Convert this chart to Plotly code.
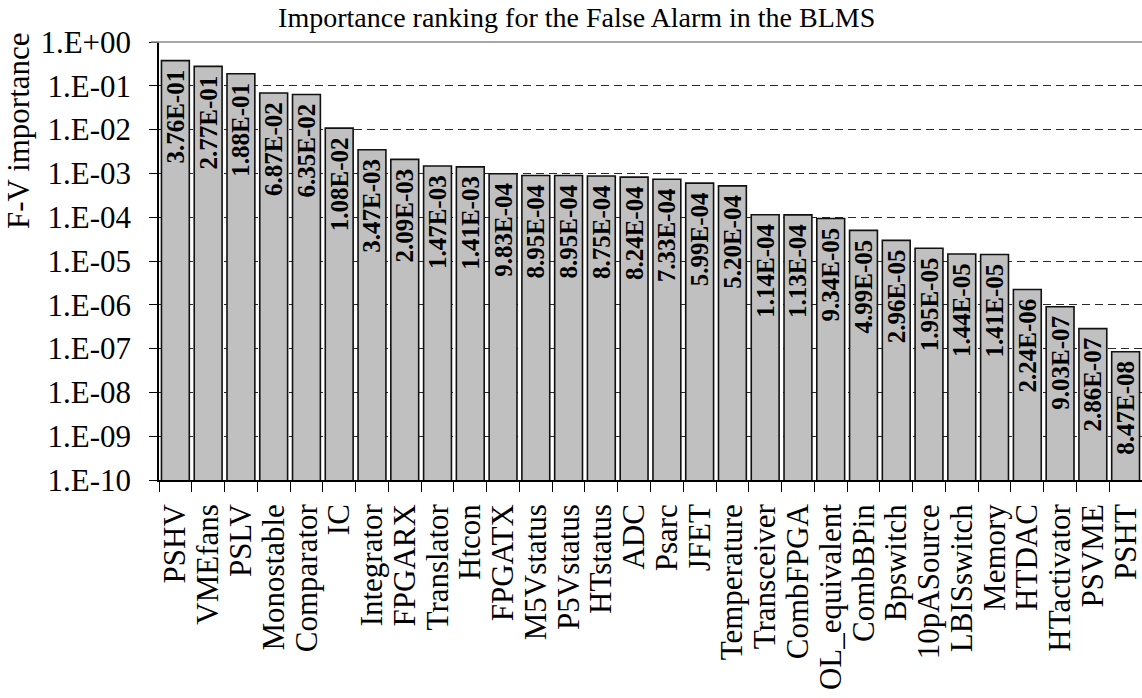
import plotly.graph_objects as go

# Component names, ordered by importance
components = [
    "PSHV", "VMEfans", "PSLV", "Monostable", "Comparator", "IC", "Integrator",
    "FPGARX", "Translator", "Htcon", "FPGATX", "M5Vstatus", "P5Vstatus",
    "HTstatus", "ADC", "Psarc", "JFET", "Temperature", "Transceiver",
    "CombFPGA", "OL_equivalent", "CombBPin", "Bpswitch", "10pASource",
    "LBISswitch", "Memory", "HTDAC", "HTactivator", "PSVME", "PSHT",
]

# Fussell-Vesely importance for the false alarm
fv_importance = [
    3.76e-01, 2.77e-01, 1.88e-01, 6.87e-02, 6.35e-02, 1.08e-02, 3.47e-03,
    2.09e-03, 1.47e-03, 1.41e-03, 9.83e-04, 8.95e-04, 8.95e-04,
    8.75e-04, 8.24e-04, 7.33e-04, 5.99e-04, 5.20e-04, 1.14e-04,
    1.13e-04, 9.34e-05, 4.99e-05, 2.96e-05, 1.95e-05,
    1.44e-05, 1.41e-05, 2.24e-06, 9.03e-07, 2.86e-07, 8.47e-08,
]

# Decade ticks and their labels
tick_values = [10.0 ** -k for k in range(0, 11)]
tick_labels = ["1.E+00"] + [f"1.E-{k:02d}" for k in range(1, 11)]

# Value labels; the trailing no-break space keeps them a little below the bar top
value_labels = [f"{v:.2E}\u00a0" for v in fv_importance]

FONT = "Liberation Serif, Times New Roman, serif"

fig = go.Figure(
    go.Bar(
        x=components,
        y=fv_importance,
        text=value_labels,
        textposition="inside",
        insidetextanchor="end",
        textangle=-90,
        constraintext="none",
        textfont=dict(family=FONT, size=25, color="black", weight="bold"),
        marker=dict(color="#c0c0c0", line=dict(color="#111111", width=1.6)),
        hoverinfo="x+y",
    )
)

fig.update_layout(
    width=1142,
    height=698,
    margin=dict(l=159, r=0, t=42, b=218),
    paper_bgcolor="white",
    plot_bgcolor="white",
    bargap=0.15,
    showlegend=False,
    font=dict(family=FONT, color="black"),
    title=dict(
        text="Importance ranking for the False Alarm in the BLMS",
        font=dict(family=FONT, size=28, color="black"),
        xref="container", x=0.505, xanchor="center",
        yref="container", y=1 - 17 / 698, yanchor="middle",
    ),
    xaxis=dict(
        type="category",
        tickmode="array",
        tickvals=components,
        ticktext=components,
        tickangle=-90,
        tickfont=dict(family=FONT, size=31, color="black"),
        showline=True, linecolor="black", linewidth=1.5,
        ticks="outside", ticklen=10, tickwidth=1.2, tickcolor="black",
        tickson="boundaries",
        showgrid=False,
        ticklabelstandoff=10,
    ),
    yaxis=dict(
        type="log",
        range=[-10, 0],
        tickvals=tick_values,
        ticktext=tick_labels,
        tickfont=dict(family=FONT, size=31, color="black"),
        showline=True, linecolor="black", linewidth=1.5,
        ticks="outside", ticklen=8, tickwidth=1.2, tickcolor="black",
        showgrid=True, gridcolor="#2a2a2a", gridwidth=1.2, griddash="8px,5px",
        zeroline=False,
        ticklabelstandoff=12,
    ),
)

# Solid grey rule along the top of the plotting area
fig.add_shape(
    type="line", xref="paper", yref="paper",
    x0=-8 / 983, x1=1, y0=1, y1=1,
    line=dict(color="#8a8a8a", width=1.6),
    layer="above",
)

# Vertical axis title, placed near the top of the axis
fig.add_annotation(
    text="F-V importance",
    xref="paper", yref="paper",
    x=-141 / 983, y=(480 - 131) / 438,
    xanchor="center", yanchor="middle",
    textangle=-90, showarrow=False,
    font=dict(family=FONT, size=31, color="black"),
)

fig.write_html("out.html")
